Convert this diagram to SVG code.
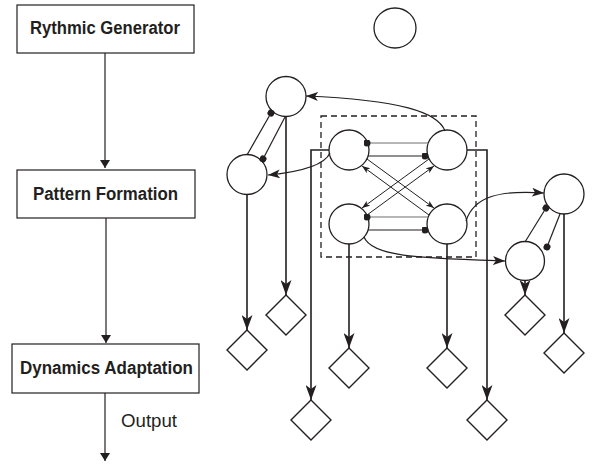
<svg xmlns="http://www.w3.org/2000/svg" width="597" height="466" viewBox="0 0 597 466">
  <defs>
    <style>
      .box { fill: #ffffff; stroke: #231f20; stroke-width: 1.2; }
      .label { font-family: "Liberation Sans", Arial, sans-serif; font-weight: bold; font-size: 18px; fill: #231f20; text-anchor: middle; }
      .plain { font-family: "Liberation Sans", Arial, sans-serif; font-size: 18px; fill: #231f20; }
      .unit { fill: #ffffff; stroke: #231f20; stroke-width: 1.3; }
      .out { fill: #ffffff; stroke: #231f20; stroke-width: 1.4; }
      .flow { fill: none; stroke: #231f20; stroke-width: 1.2; }
      .drop { fill: none; stroke: #231f20; stroke-width: 1.6; }
      .link { fill: none; stroke: #231f20; stroke-width: 1.2; }
      .thin { fill: none; stroke: #231f20; stroke-width: 1; }
      .grey { fill: none; stroke: #6d6e71; stroke-width: 1.2; }
      .frame { fill: none; stroke: #231f20; stroke-width: 1.3; stroke-dasharray: 6 4; }
    </style>
    <marker id="tri" markerUnits="userSpaceOnUse" viewBox="0 0 8 10" refX="8" refY="5" markerWidth="8" markerHeight="10" orient="auto">
      <path d="M0,0 L8,5 L0,10 Z" fill="#231f20"/>
    </marker>
    <marker id="big" markerUnits="userSpaceOnUse" viewBox="0 0 15 11" refX="15" refY="5.5" markerWidth="15" markerHeight="11" orient="auto">
      <path d="M0,0 L15,5.5 L0,11 L4,5.5 Z" fill="#231f20"/>
    </marker>
    <marker id="mid" markerUnits="userSpaceOnUse" viewBox="0 0 12 9" refX="12" refY="4.5" markerWidth="12" markerHeight="9" orient="auto">
      <path d="M0,0 L12,4.5 L0,9 L3,4.5 Z" fill="#231f20"/>
    </marker>
    <marker id="small" markerUnits="userSpaceOnUse" viewBox="0 0 8 6" refX="8" refY="3" markerWidth="8" markerHeight="6" orient="auto">
      <path d="M0,0 L8,3 L0,6 L2,3 Z" fill="#231f20"/>
    </marker>
    <marker id="dot" markerUnits="userSpaceOnUse" viewBox="0 0 7 7" refX="3.5" refY="3.5" markerWidth="7" markerHeight="7" orient="auto">
      <circle cx="3.5" cy="3.5" r="3.5" fill="#231f20"/>
    </marker>
  </defs>

  <rect width="597" height="466" fill="#ffffff"/>

  <!-- processing chain on the left -->
  <g id="rythmic-generator">
    <rect class="box" x="17" y="5" width="177" height="48"/>
    <text class="label" x="105" y="34" textLength="150" lengthAdjust="spacingAndGlyphs">Rythmic Generator</text>
  </g>
  <g id="pattern-formation">
    <rect class="box" x="17" y="170" width="178" height="48"/>
    <text class="label" x="105.5" y="199.5" textLength="145" lengthAdjust="spacingAndGlyphs">Pattern Formation</text>
  </g>
  <g id="dynamics-adaptation">
    <rect class="box" x="12" y="344" width="187" height="49"/>
    <text class="label" x="106.5" y="374" textLength="173" lengthAdjust="spacingAndGlyphs">Dynamics Adaptation</text>
  </g>

  <!-- oscillator network -->
  <g id="frame">
    <rect class="frame" x="321" y="116" width="155" height="141"/>
  </g>
  <g id="unit-top"><ellipse class="unit" cx="395" cy="28" rx="21" ry="20"/></g>
  <g id="unit-a"><circle class="unit" cx="286" cy="96.5" r="20"/></g>
  <g id="unit-b"><circle class="unit" cx="247" cy="174.5" r="20"/></g>
  <g id="unit-c"><circle class="unit" cx="349" cy="150" r="20"/></g>
  <g id="unit-d"><circle class="unit" cx="349" cy="224" r="20"/></g>
  <g id="unit-e"><circle class="unit" cx="447" cy="150" r="20"/></g>
  <g id="unit-f"><circle class="unit" cx="447" cy="224" r="20"/></g>
  <g id="unit-g"><circle class="unit" cx="564" cy="194" r="20"/></g>
  <g id="unit-h"><circle class="unit" cx="525" cy="261" r="19.5"/></g>

  <!-- outputs -->
  <g id="out-1"><path class="out" d="M247,330 L267,350 L247,370 L227,350 Z"/></g>
  <g id="out-2"><path class="out" d="M286,295 L306,315 L286,335 L266,315 Z"/></g>
  <g id="out-3"><path class="out" d="M311,400 L331,420 L311,440 L291,420 Z"/></g>
  <g id="out-4"><path class="out" d="M349,348 L369,368 L349,388 L329,368 Z"/></g>
  <g id="out-5"><path class="out" d="M447,348 L467,368 L447,388 L427,368 Z"/></g>
  <g id="out-6"><path class="out" d="M487,400 L507,420 L487,440 L467,420 Z"/></g>
  <g id="out-7"><path class="out" d="M525,295 L545,315 L525,335 L505,315 Z"/></g>
  <g id="out-8"><path class="out" d="M564,333 L584,353 L564,373 L544,353 Z"/></g>

  <g id="connectors">
    <!-- chain -->
    <line class="flow" x1="105" y1="53" x2="105" y2="168" marker-end="url(#tri)"/>
    <line class="flow" x1="106" y1="218" x2="106" y2="343" marker-end="url(#tri)"/>
    <line class="flow" x1="105" y1="393" x2="105" y2="461" marker-end="url(#tri)"/>
    <text class="plain" x="121" y="427" textLength="56" lengthAdjust="spacingAndGlyphs">Output</text>

    <!-- unit to output drops -->
    <line class="drop" x1="286" y1="117" x2="286" y2="295" marker-end="url(#big)"/>
    <line class="drop" x1="247" y1="195" x2="247" y2="330" marker-end="url(#big)"/>
    <polyline class="drop" points="329,150 311,150 311,400" marker-end="url(#big)"/>
    <line class="drop" x1="349" y1="244" x2="349" y2="348" marker-end="url(#big)"/>
    <line class="drop" x1="447" y1="244" x2="447" y2="348" marker-end="url(#big)"/>
    <polyline class="drop" points="467,150 487,150 487,400" marker-end="url(#big)"/>
    <line class="drop" x1="525" y1="281" x2="525" y2="295" marker-end="url(#big)"/>
    <line class="drop" x1="564" y1="214" x2="564" y2="333" marker-end="url(#big)"/>

    <!-- curved couplings -->
    <path class="link" d="M445,131 C438,112 400,100 306,96" marker-end="url(#mid)"/>
    <path class="link" d="M330,153 C324,166 300,172 268,175" marker-end="url(#mid)"/>
    <path class="link" d="M364,237 C372,257 420,258 505,261" marker-end="url(#mid)"/>
    <path class="link" d="M466,221 C474,196 500,190 544,193" marker-end="url(#mid)"/>

    <!-- inhibitory pairs -->
    <line class="link" x1="247" y1="155" x2="271" y2="113" marker-end="url(#dot)"/>
    <line class="link" x1="285" y1="117" x2="263" y2="159" marker-end="url(#dot)"/>
    <line class="link" x1="525" y1="242" x2="546" y2="208" marker-end="url(#dot)"/>
    <line class="link" x1="560" y1="214" x2="547" y2="247" marker-end="url(#dot)"/>
    <line class="grey" x1="428" y1="143" x2="367" y2="143" marker-end="url(#dot)"/>
    <line class="link" x1="368" y1="156" x2="425" y2="156" marker-end="url(#dot)"/>
    <line class="grey" x1="428" y1="217" x2="367" y2="217" marker-end="url(#dot)"/>
    <line class="link" x1="368" y1="230" x2="425" y2="230" marker-end="url(#dot)"/>

    <!-- diagonal excitatory pairs -->
    <line class="thin" x1="367" y1="159" x2="434" y2="208" marker-end="url(#small)"/>
    <line class="thin" x1="429" y1="215" x2="362" y2="166" marker-end="url(#small)"/>
    <line class="thin" x1="429" y1="159" x2="362" y2="208" marker-end="url(#small)"/>
    <line class="thin" x1="367" y1="215" x2="434" y2="166" marker-end="url(#small)"/>
  </g>
</svg>
